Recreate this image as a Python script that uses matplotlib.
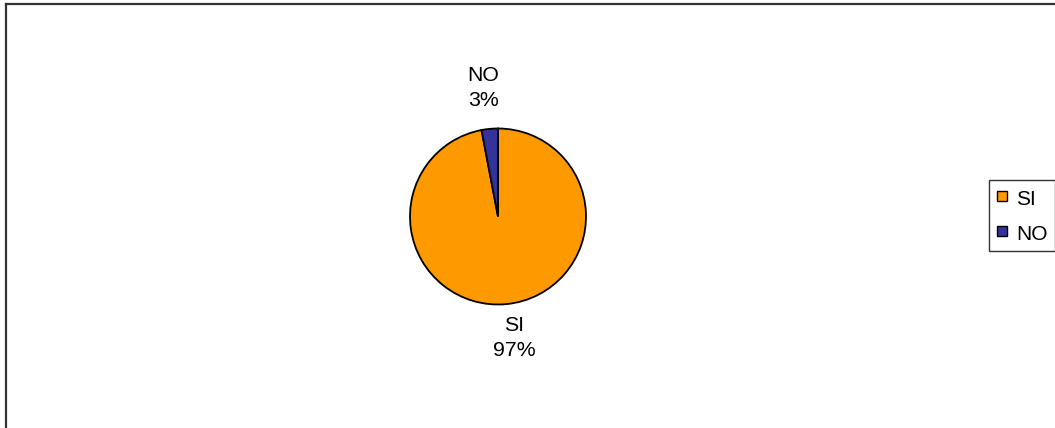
import matplotlib
matplotlib.use("Agg")
import matplotlib.pyplot as plt
from matplotlib.lines import Line2D

categories = ["SI", "NO"]
values = [97, 3]
colors = ["#FF9900", "#333399"]

plt.rcParams['font.family'] = ['Liberation Sans', 'DejaVu Sans']

W, H = 1055, 428
fig = plt.figure(figsize=(W / 100, H / 100), dpi=100)
ax = fig.add_axes([0, 0, 1, 1])

labels = [f"{c}\n{v}%" for c, v in zip(categories, values)]
wedges, texts = ax.pie(values, colors=colors, startangle=90, counterclock=False,
                       center=(498, H - 216.5), radius=88, labels=labels,
                       labeldistance=1.43, frame=True,
                       wedgeprops=dict(edgecolor='black', linewidth=1.3),
                       textprops=dict(fontsize=15.3, linespacing=1.38))
ax.set_xlim(0, W)
ax.set_ylim(0, H)
ax.set_aspect('equal')
ax.axis('off')
nudges = [(4.5, 3.5), (-3, 3.5)]
for t, (dx, dy) in zip(texts, nudges):
    t.set_ha('center')
    t.set_va('center')
    x, y = t.get_position()
    t.set_position((x + dx, y + dy))

# outer chart border (left and top visible)
fig.add_artist(Line2D([5.5 / W, 5.5 / W], [0, 1 - 3.5 / H], transform=fig.transFigure,
                      color='#333333', linewidth=1.6))
fig.add_artist(Line2D([5.5 / W, 1], [1 - 3.5 / H, 1 - 3.5 / H], transform=fig.transFigure,
                      color='#333333', linewidth=1.6))

handles = [Line2D([], [], marker='s', linestyle='none', markersize=7.2,
                  markerfacecolor=c, markeredgecolor='black', markeredgewidth=1.0)
           for c in colors]
leg = fig.legend(handles, categories, loc='center left',
                 bbox_to_anchor=(989 / W, 1 - 215.5 / H), fontsize=15,
                 frameon=True, fancybox=False, edgecolor='black',
                 handlelength=0.48, handleheight=1.1, handletextpad=0.45,
                 labelspacing=0.67, borderpad=0.36, borderaxespad=0)
leg.get_frame().set_linewidth(1.0)

fig.savefig("out.png", dpi=100)
